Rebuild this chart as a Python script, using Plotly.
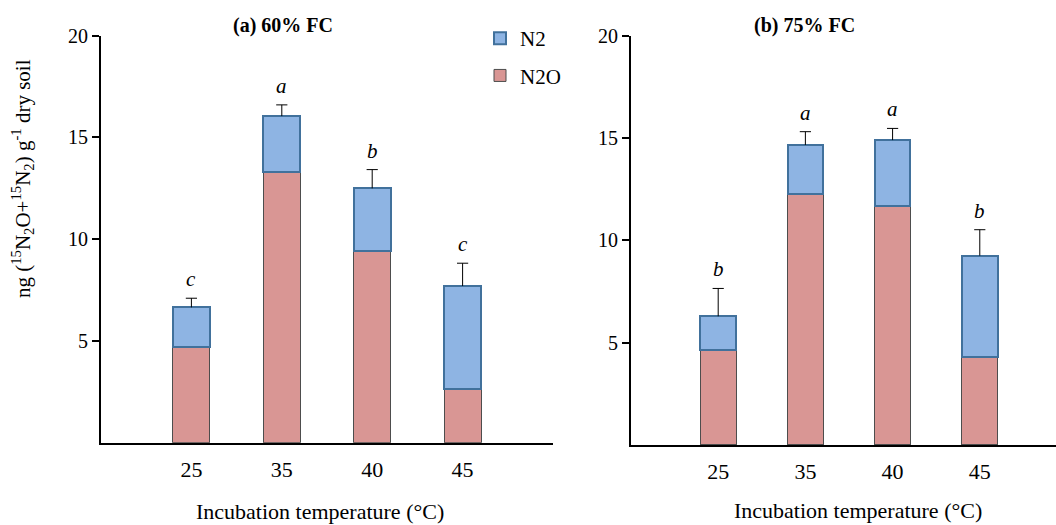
import plotly.graph_objects as go

# Incubation temperatures (°C)
temps = ["25", "35", "40", "45"]

# (a) 60% FC  -- ng (15N2O + 15N2) g-1 dry soil
n2o_60 = [4.72, 13.32, 9.42, 2.64]
n2_60 = [1.93, 2.73, 3.08, 5.06]
err_60 = [0.45, 0.55, 0.92, 1.12]
sig_60 = ["c", "a", "b", "c"]

# (b) 75% FC
n2o_75 = [4.64, 12.25, 11.69, 4.31]
n2_75 = [1.65, 2.41, 3.21, 4.94]
err_75 = [1.36, 0.65, 0.57, 1.27]
sig_75 = ["b", "a", "a", "b"]

FONT = "Liberation Serif, Times New Roman, serif"
N2_FILL, N2_LINE = "#8EB4E3", "#41719C"
N2O_FILL, N2O_LINE = "#D99694", "#4D4D4D"

W, H = 1056, 525
def px(v):
    return v / W
def py(v):
    return 1 - v / H

fig = go.Figure()

panels = [
    ("x", "y", n2o_60, n2_60, err_60, sig_60, True),
    ("x2", "y2", n2o_75, n2_75, err_75, sig_75, False),
]
idx = list(range(len(temps)))

for xa, ya, n2o, n2, err, sig, legend in panels:
    totals = [a + b for a, b in zip(n2o, n2)]
    fig.add_trace(go.Bar(
        x=idx, y=n2o, name="N2O", xaxis=xa, yaxis=ya, width=0.41,
        marker=dict(color=N2O_FILL, line=dict(color=N2O_LINE, width=1)),
        showlegend=legend, legendgroup="n2o", legendrank=2,
    ))
    fig.add_trace(go.Bar(
        x=idx, y=n2, name="N2", xaxis=xa, yaxis=ya, width=0.41,
        marker=dict(color=N2_FILL, line=dict(color=N2_LINE, width=2)),
        showlegend=legend, legendgroup="n2", legendrank=1,
    ))
    # upper error bars: cap marker at the top, whisker down to the bar top
    tops = [t + e for t, e in zip(totals, err)]
    fig.add_trace(go.Scatter(
        x=idx, y=tops, xaxis=xa, yaxis=ya, mode="markers", showlegend=False,
        marker=dict(symbol="line-ew", size=8, color="black",
                    line=dict(color="black", width=1)),
        error_y=dict(type="data", symmetric=False, array=[0] * len(err),
                     arrayminus=err, width=0, thickness=1, color="black"),
        hoverinfo="skip",
    ))
    # significance letters
    for i, (t, s) in enumerate(zip(tops, sig)):
        fig.add_annotation(
            x=i, y=t, xref=xa, yref=ya, text=s, showarrow=False,
            yanchor="middle", yshift=19,
            font=dict(family=FONT, size=21, color="black", style="italic"),
        )

axis_common = dict(showgrid=False, zeroline=False, showline=True,
                   linecolor="black", linewidth=2, automargin=False)
# x ticks are invisible; their length only spaces the labels from the axis
xcommon = dict(axis_common, tickvals=idx, ticktext=temps, ticks="outside",
               ticklen=6, tickcolor="rgba(0,0,0,0)",
               tickfont=dict(family=FONT, size=22, color="black"))
ycommon = dict(axis_common, range=[0, 20], tickvals=[5, 10, 15, 20],
               ticks="outside", ticklen=7, tickwidth=2, tickcolor="black",
               ticksuffix="\u00a0",
               tickfont=dict(family=FONT, size=20, color="black"))

fig.update_layout(
    width=W, height=H,
    margin=dict(l=0, r=0, t=0, b=0, autoexpand=False),
    paper_bgcolor="white", plot_bgcolor="white",
    barmode="stack",
    xaxis=dict(xcommon, domain=[px(101), px(553)], range=[-1, 4], anchor="y"),
    yaxis=dict(ycommon, domain=[py(442.7), py(35.7)], anchor="x"),
    xaxis2=dict(xcommon, domain=[px(631), 1.0], range=[-1, 3.874], anchor="y2"),
    yaxis2=dict(ycommon, domain=[py(445), py(35.7)], anchor="x2"),
    legend=dict(x=px(480), y=py(18), xanchor="left", yanchor="top",
                bgcolor="rgba(0,0,0,0)", traceorder="grouped",
                tracegroupgap=7,
                font=dict(family=FONT, size=21, color="black")),
    showlegend=True,
)

# panel titles
for text, xc in [("<b>(a) 60% FC</b>", 283), ("<b>(b) 75% FC</b>", 804.7)]:
    fig.add_annotation(x=px(xc), y=py(25), xref="paper", yref="paper",
                       text=text, showarrow=False, xanchor="center",
                       yanchor="middle",
                       font=dict(family=FONT, size=20, color="black"))

# x-axis titles
for xc, yc in [(319.5, 511.7), (858, 510)]:
    fig.add_annotation(x=px(xc), y=py(yc), xref="paper", yref="paper",
                       text="Incubation temperature (°C)", showarrow=False,
                       xanchor="center", yanchor="middle",
                       font=dict(family=FONT, size=22, color="black"))

# y-axis title
fig.add_annotation(
    x=px(23), y=py(179), xref="paper", yref="paper", textangle=-90,
    text="ng (<sup>15</sup>N<sub>2</sub>O+<sup>15</sup>N<sub>2</sub>) g<sup>-1</sup> dry soil",
    showarrow=False, xanchor="center", yanchor="middle",
    font=dict(family=FONT, size=21, color="black"),
)

fig.write_html("out.html")
